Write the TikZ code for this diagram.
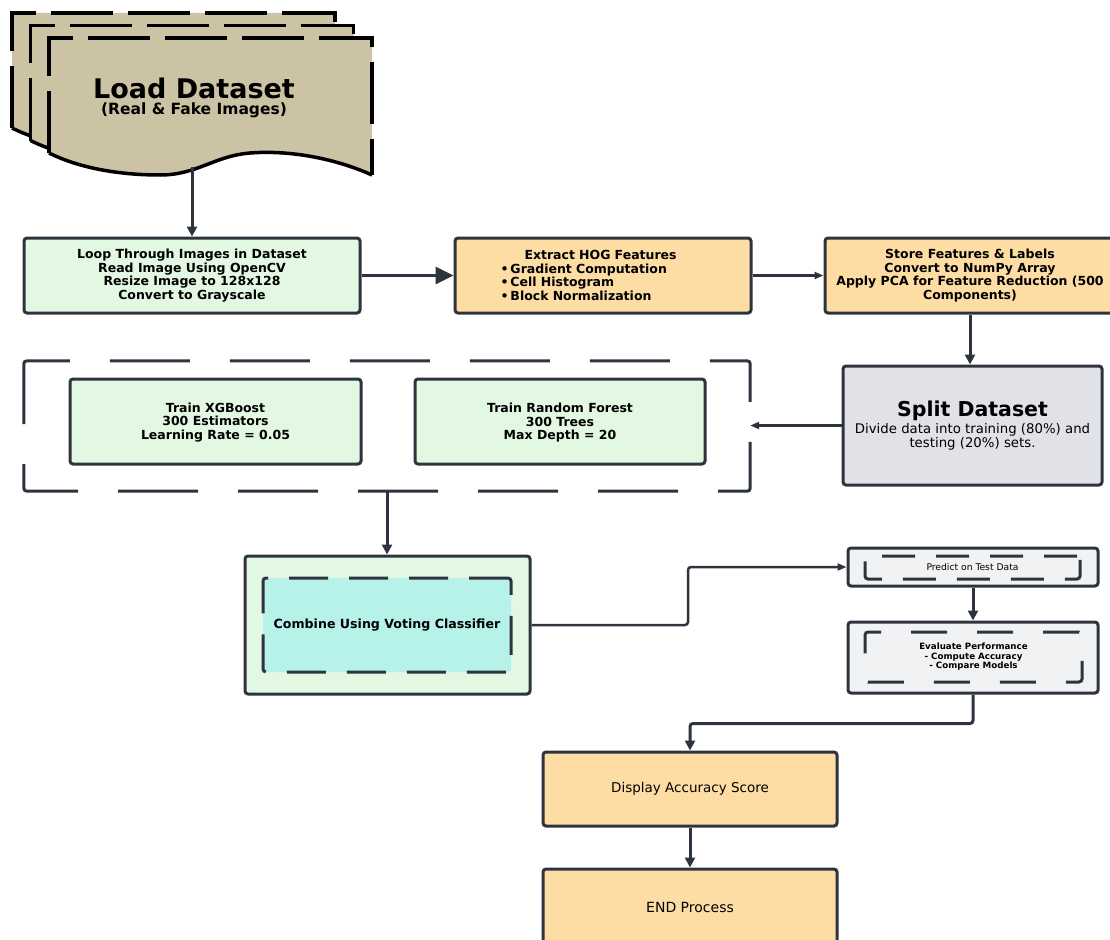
\documentclass[tikz,border=0pt]{standalone}
\usepackage{fontspec}
\setmainfont{DejaVu Sans}
\usetikzlibrary{arrows.meta}
\definecolor{lc}{HTML}{2E343E}
\definecolor{tan}{HTML}{CCC3A5}
\definecolor{lgreen}{HTML}{E2F8E2}
\definecolor{lorange}{HTML}{FDDDA3}
\definecolor{lgray}{HTML}{E0E2E7}
\definecolor{pgray}{HTML}{F1F2F4}
\definecolor{lcyan}{HTML}{B6F2EA}
\tikzset{
  box/.style={draw=lc, line width=3pt, rounded corners=3pt, inner sep=0pt, align=center},
  boldtxt/.style={font=\fontsize{12.5}{13.6}\selectfont\bfseries},
  smalltxt/.style={font=\fontsize{8.7}{9.5}\selectfont\bfseries},
  conn/.style={draw=lc, line width=3pt},
  thinconn/.style={draw=lc, line width=2.5pt},
  tip/.style={-{Triangle[length=10pt,width=10pt]}},
  smalltip/.style={-{Triangle[length=9pt,width=7pt]}},
  bigtip/.style={-{Triangle[length=18pt,width=17pt]}},
  docdash/.style={draw=black, line width=3.5pt, dash pattern=on 62pt off 15pt},
  docwave/.style={draw=black, line width=3.5pt},
  groupdash/.style={draw=lc, line width=3pt, dash pattern=on 80pt off 40pt, dash phase=37pt, rounded corners=3pt},
  innerdash/.style={draw=lc, line width=3pt, rounded corners=3pt, inner sep=0pt, align=center}
}
\begin{document}
\begin{tikzpicture}[x=1pt,y=-1pt]
\clip (0,0) rectangle (1110,939);
\fill[white] (0,0) rectangle (1110,939);

% stacked document
\foreach \k in {0,1,2}{
  \begin{scope}[shift={(12+18.5*\k,13+12.5*\k)}]
    \fill[tan] (0,0) -- (323,0) -- (323,137)
      .. controls (285,120) and (240,112) .. (201,115)
      .. controls (165,118) and (148,137) .. (111,137)
      .. controls (70,137) and (30,130) .. (0,115) -- cycle;
    \draw[docdash] (0,115) -- (0,0) -- (323,0) -- (323,137);
    \draw[docwave] (323,137)
      .. controls (285,120) and (240,112) .. (201,115)
      .. controls (165,118) and (148,137) .. (111,137)
      .. controls (70,137) and (30,130) .. (0,115);
  \end{scope}
}
\node[font=\fontsize{27}{30}\selectfont\bfseries] (loadtitle) at (194,88) {Load Dataset};
\node[font=\fontsize{15.5}{17}\selectfont\bfseries] (loadsub) at (194,110.5) {(Real \& Fake Images)};
\coordinate (docbot) at (192,167);

% row 2
\node[box, fill=lgreen, minimum width=336pt, minimum height=75pt, boldtxt] (loop) at (192,275.5)
  {Loop Through Images in Dataset\\Read Image Using OpenCV\\Resize Image to 128x128\\Convert to Grayscale};
\node[box, fill=lorange, minimum width=296pt, minimum height=75pt, boldtxt, text width=205pt, align=left] (extract) at (603,275.5)
  {\hspace*{24pt}Extract HOG Features\\•\hspace{2pt}Gradient Computation\\•\hspace{2pt}Cell Histogram\\•\hspace{2pt}Block Normalization};
\node[box, fill=lorange, minimum width=290pt, minimum height=75pt, boldtxt] (store) at (970,275.5)
  {Store Features \& Labels\\Convert to NumPy Array\\Apply PCA for Feature Reduction (500\\Components)};

% split
\node[box, fill=lgray, minimum width=259pt, minimum height=119pt] (split) at (972.5,425.5)
  {\fontsize{20.5}{24}\selectfont\bfseries Split Dataset\\[1pt]
   \fontsize{13.3}{14.5}\selectfont\mdseries Divide data into training (80\%) and\\
   \fontsize{13.3}{14.5}\selectfont\mdseries testing (20\%) sets.};

% training group
\node[minimum width=726pt, minimum height=130pt, inner sep=0pt] (group) at (387,426) {};
\draw[groupdash] (group.north west) -- (group.north east) -- (group.south east) -- (group.south west) -- cycle;
\node[box, fill=lgreen, minimum width=291pt, minimum height=85pt, boldtxt] (xgb) at (215.5,421.5)
  {\\[-2pt]Train XGBoost\\300 Estimators\\Learning Rate = 0.05};
\node[box, fill=lgreen, minimum width=290pt, minimum height=85pt, boldtxt] (rf) at (560,421.5)
  {\\[-2pt]Train Random Forest\\300 Trees\\Max Depth = 20};

% combine
\node[box, fill=lgreen, minimum width=285pt, minimum height=138pt] (combine) at (387.5,625) {};
\node[innerdash, fill=lcyan, dash pattern=on 39pt off 21pt, minimum width=248pt, minimum height=94pt,
      font=\fontsize{12.6}{14}\selectfont\bfseries] (combinein) at (387,625) {Combine Using Voting Classifier};

% predict
\node[box, fill=pgray, minimum width=250pt, minimum height=38pt] (predict) at (973,567) {};
\node[innerdash, dash pattern=on 33pt off 21pt, minimum width=215pt, minimum height=23pt,
      font=\fontsize{9.2}{10}\selectfont] (predictin) at (972.5,567.5) {Predict on Test Data};

% evaluate
\node[box, fill=pgray, minimum width=250pt, minimum height=71pt] (evaluate) at (973,657.5) {};
\node[innerdash, dash pattern=on 36pt off 30pt, minimum width=217pt, minimum height=50pt, smalltxt] (evaluatein) at (973.5,657)
  {Evaluate Performance\\- Compute Accuracy\\- Compare Models};

% display & end
\node[box, fill=lorange, minimum width=294pt, minimum height=74pt, font=\fontsize{13.5}{15}\selectfont] (display) at (690,789) {Display Accuracy Score};
\node[box, fill=lorange, minimum width=294pt, minimum height=76pt, font=\fontsize{14}{15}\selectfont] (end) at (690,907) {END Process};

% connectors
\draw[conn, tip] (docbot) -- (loop.north -| docbot);
\draw[conn, bigtip] (loop.east) -- (extract.west);
\draw[thinconn, smalltip] (extract.east) -- (store.west);
\draw[conn, tip] (store.south) -- (split.north -| store.south);
\draw[thinconn, smalltip] (split.west) -- (group.east |- split.west);
\draw[conn, tip] (group.south) -- (combine.north -| group.south);
\draw[thinconn, smalltip, rounded corners=3pt] (combine.east) -- (688,625) |- (predict.west);
\draw[conn, tip] (predict.south) -- (evaluate.north);
\draw[conn, tip, rounded corners=3pt] (evaluate.south) -- ++(0,29) -| (display.north);
\draw[conn, tip] (display.south) -- (end.north);
\end{tikzpicture}
\end{document}
